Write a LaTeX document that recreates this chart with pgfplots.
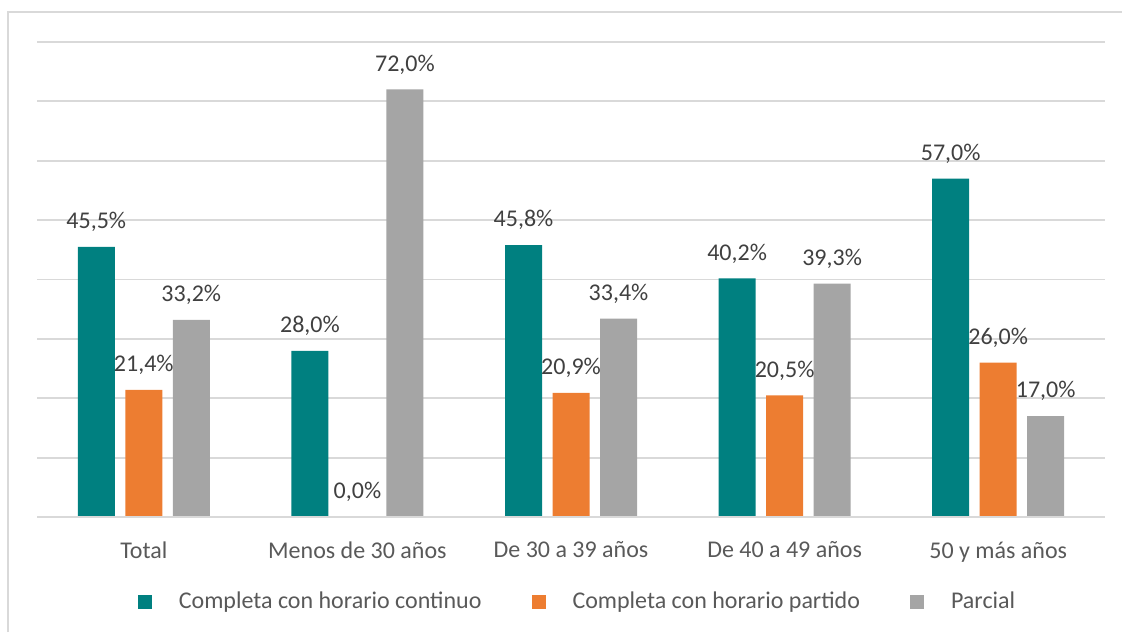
\documentclass[border=0pt]{standalone}
\usepackage{pgfplots}
\pgfplotsset{compat=1.18}
\usepackage{fontspec}
\setmainfont{Carlito}

\definecolor{cteal}{HTML}{008080}
\definecolor{corange}{HTML}{ED7D31}
\definecolor{cgray}{HTML}{A5A5A5}
\definecolor{cgrid}{HTML}{D9D9D9}
\definecolor{ctext}{HTML}{595959}
\definecolor{clabel}{HTML}{404040}

\begin{document}
\begin{tikzpicture}[font=\fontsize{12}{14}\selectfont]
\useasboundingbox (0,0) rectangle (561pt,316pt);
\draw[cgrid, line width=1pt] (4pt,0) -- (4pt,310pt) -- (561pt,310pt);

\begin{axis}[
  at={(18.5pt,57.5pt)},
  anchor=south west,
  scale only axis,
  width=534pt,
  height=237.5pt,
  ybar=5.25pt,
  bar width=18.5pt,
  xmin=-0.5, xmax=4.5,
  ymin=0, ymax=80,
  ytick={0,10,...,80},
  yticklabels={},
  ymajorgrids,
  grid style={cgrid, line width=0.9pt},
  axis line style={draw=none},
  tick style={draw=none},
  xtick=data,
  xticklabels={{Total},{Menos de 30 años},{De 30 a 39 años},{De 40 a 49 años},{50 y más años}},
  xticklabel style={text=ctext, yshift=-4.5pt},
  /pgf/number format/assume math mode=true,
  nodes near coords={\pgfmathprintnumber[fixed,fixed zerofill,precision=1,use comma]{\pgfplotspointmeta}\%},
  every node near coord/.append style={text=clabel, anchor=south, yshift=4pt},
  legend columns=3,
  legend style={draw=none, fill=none, at={(0.507,-0.179)}, anchor=center, text=ctext,
    /tikz/every odd column/.append style={column sep=11.5pt},
    /tikz/every even column/.append style={column sep=23pt}},
  legend image code/.code={\fill[#1] (0pt,-3.5pt) rectangle (7pt,3.5pt);},
]
\addplot[fill=cteal, draw=none] coordinates {(0,45.5) (1,28.0) (2,45.8) (3,40.2) (4,57.0)};
\addlegendentry{Completa con horario continuo}
\addplot[fill=corange, draw=none] coordinates {(0,21.4) (1,0.0) (2,20.9) (3,20.5) (4,26.0)};
\addlegendentry{Completa con horario partido}
\addplot[fill=cgray, draw=none] coordinates {(0,33.2) (1,72.0) (2,33.4) (3,39.3) (4,17.0)};
\addlegendentry{Parcial}
\draw[cgrid, line width=1pt] (axis cs:-0.5,0) -- (axis cs:4.5,0);
\end{axis}
\end{tikzpicture}
\end{document}
